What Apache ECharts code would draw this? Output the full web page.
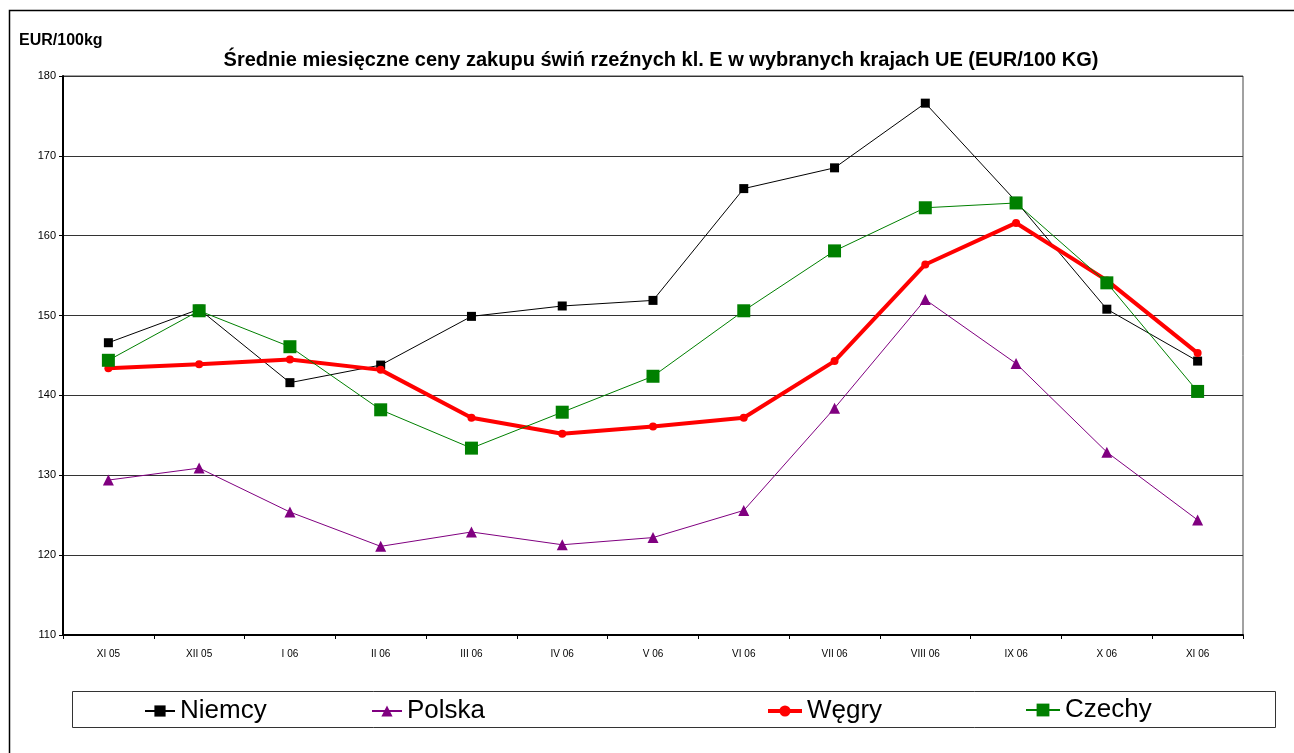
<!DOCTYPE html>
<html>
<head>
<meta charset="utf-8">
<script src="https://cdn.jsdelivr.net/npm/echarts@6/dist/echarts.min.js"></script>
<style>
html,body{margin:0;padding:0;background:#fff;}
#chart{width:1294px;height:753px;}
</style>
</head>
<body>
<div id="chart"></div>
<script>
const categories = ['XI 05','XII 05','I 06','II 06','III 06','IV 06','V 06','VI 06','VII 06','VIII 06','IX 06','X 06','XI 06'];
const niemcy = [146.6, 150.8, 141.6, 143.8, 149.9, 151.2, 151.9, 165.9, 168.5, 176.6, 164.3, 150.8, 144.3];
const polska = [129.4, 130.9, 125.4, 121.1, 122.9, 121.3, 122.2, 125.6, 138.4, 152.0, 144.0, 132.9, 124.4];
const wegry  = [143.4, 143.9, 144.5, 143.2, 137.2, 135.2, 136.1, 137.2, 144.3, 156.4, 161.6, 154.4, 145.3];
const czechy = [144.4, 150.6, 146.1, 138.2, 133.4, 137.9, 142.4, 150.6, 158.1, 163.5, 164.1, 154.1, 140.5];
const seriesNames = ['Niemcy','Polska','Węgry','Czechy'];
const yTicks = {min:110, max:180, interval:10};

const chart = echarts.init(document.getElementById('chart'));
const legendFont = {fontSize:26, fontFamily:'Liberation Sans, Arial, sans-serif', color:'#000'};
function leg(name, left, extra){
  return Object.assign({data:[name], left:left, top:693, itemWidth:30, itemHeight:14, itemGap:4, textStyle:legendFont, selectedMode:false}, extra || {});
}
chart.setOption({
  animation:false,
  backgroundColor:'#fff',
  textStyle:{fontFamily:'Liberation Sans, Arial, sans-serif'},
  title:[
    {text:'Średnie miesięczne ceny zakupu świń rzeźnych kl. E w wybranych krajach UE (EUR/100 KG)',
     left:656, top:45, textAlign:'center',
     textStyle:{fontSize:20, fontWeight:'bold', color:'#000', fontFamily:'Liberation Sans, Arial, sans-serif'}},
    {text:'EUR/100kg', left:14, top:28,
     textStyle:{fontSize:16, fontWeight:'bold', color:'#000', fontFamily:'Liberation Sans, Arial, sans-serif'}}
  ],
  graphic:[
    {type:'rect', left:7, top:8, shape:{width:1300, height:800}, style:{fill:'none', stroke:'#000', lineWidth:1.5}, silent:true, z:-10},
    {type:'rect', left:70, top:689, shape:{width:1203, height:36}, style:{fill:'none', stroke:'#333', lineWidth:1}, silent:true, z:-5}
  ],
  legend:[
    leg('Niemcy',139),
    leg('Polska',366),
    leg('Węgry',761, {itemWidth:34, lineStyle:{width:4}}),
    leg('Czechy',1020, {itemWidth:34, itemHeight:16, top:692})
  ],
  grid:{left:63, right:51, top:76, bottom:118, show:true, borderColor:'#444', borderWidth:1},
  xAxis:{
    type:'category', data:categories, boundaryGap:true,
    axisLine:{lineStyle:{color:'#000', width:2}},
    axisTick:{show:true, alignWithLabel:false, length:4, lineStyle:{color:'#000'}},
    axisLabel:{fontSize:10, color:'#000', margin:14}
  },
  yAxis:{
    type:'value', min:yTicks.min, max:yTicks.max, interval:yTicks.interval,
    axisLine:{show:true, lineStyle:{color:'#000', width:2}},
    axisTick:{show:true, length:4, lineStyle:{color:'#000'}},
    axisLabel:{fontSize:11, color:'#000', margin:7},
    splitLine:{lineStyle:{color:'#333', width:1}}
  },
  series:[
    {name:seriesNames[0], type:'line', data:niemcy, symbol:'rect', symbolSize:9,
     lineStyle:{color:'#000', width:1}, itemStyle:{color:'#000'}, z:3},
    {name:seriesNames[1], type:'line', data:polska, symbol:'triangle', symbolSize:11,
     lineStyle:{color:'#800080', width:1}, itemStyle:{color:'#800080'}, z:3},
    {name:seriesNames[2], type:'line', data:wegry, symbol:'circle', symbolSize:8,
     lineStyle:{color:'#ff0000', width:4}, itemStyle:{color:'#ff0000'}, z:4},
    {name:seriesNames[3], type:'line', data:czechy, symbol:'rect', symbolSize:13,
     lineStyle:{color:'#008000', width:1}, itemStyle:{color:'#008000'}, z:5}
  ]
});
</script>
</body>
</html>
